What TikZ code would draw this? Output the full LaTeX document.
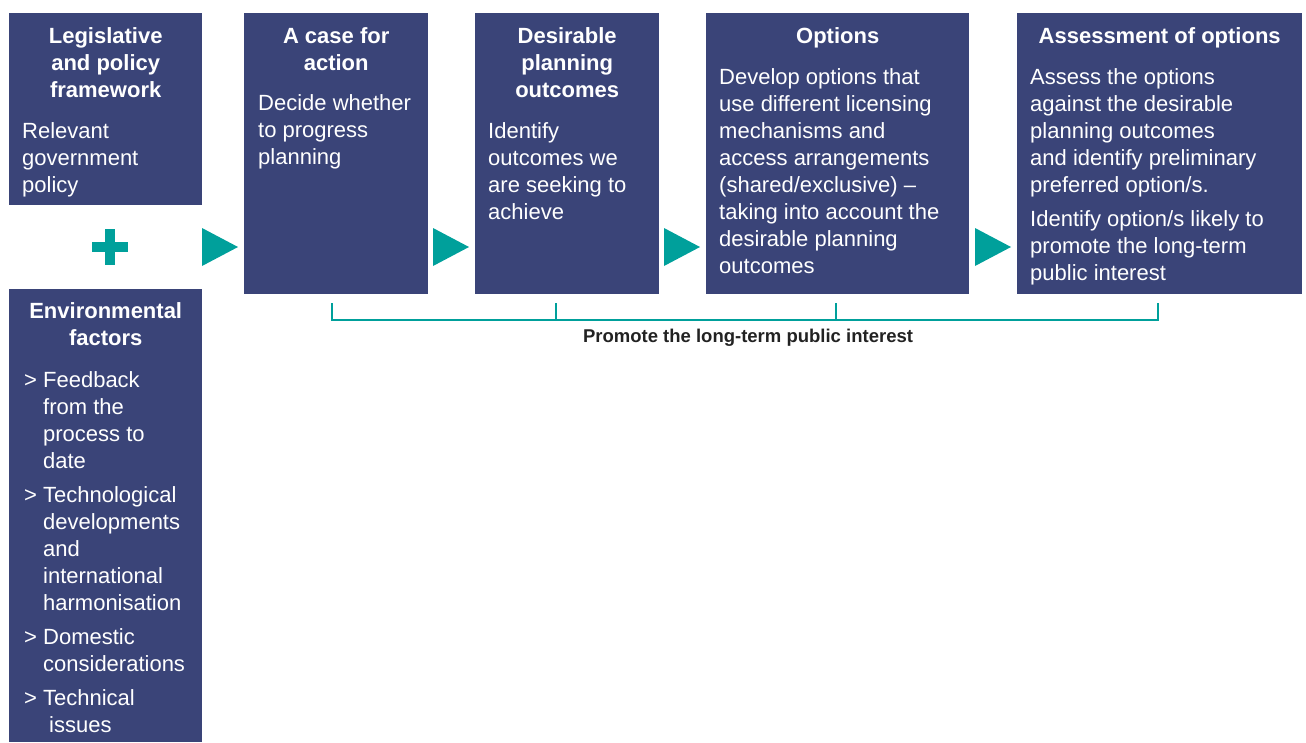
\documentclass[tikz,border=0pt]{standalone}
\usepackage{fontspec}
\setmainfont{Liberation Sans}
\usepackage{tikz}
\usetikzlibrary{positioning}
\definecolor{navy}{HTML}{3A4478}
\definecolor{tealc}{HTML}{00A09B}
\definecolor{ink}{HTML}{222222}
\tikzset{
  panel/.style={rectangle, anchor=north west, fill=navy, draw=none, inner sep=0pt},
  heading/.style={anchor=base, align=center, text=white, inner sep=0pt, font=\bfseries\fontsize{22}{27}\selectfont},
  body/.style={anchor=base west, align=left, text=white, inner sep=0pt, font=\fontsize{22}{27}\selectfont},
  pointer/.style={fill=tealc},
  bracket/.style={draw=tealc, line width=2pt},
  note/.style={anchor=base, text=ink, inner sep=0pt, font=\bfseries\fontsize{18.5}{22}\selectfont}
}
\begin{document}
\begin{tikzpicture}[x=1pt, y=-1pt]
    \useasboundingbox (0,0) rectangle (1306,742);

    % panels
    \node (legal) [panel, minimum width=193pt, minimum height=192pt] at (9,13) {};
    \node (env) [panel, minimum width=193pt, minimum height=453pt] at (9,289) {};
    \node (case) [panel, minimum width=184pt, minimum height=281pt] at (244,13) {};
    \node (goals) [panel, minimum width=184pt, minimum height=281pt] at (475,13) {};
    \node (options) [panel, minimum width=263pt, minimum height=281pt] at (706,13) {};
    \node (assess) [panel, minimum width=285pt, minimum height=281pt] at (1017,13) {};

    % headings (base = last line)
    \node (legalT) [heading] at ([yshift=-84pt]legal.north) {Legislative\\and policy\\framework};
    \node (envT) [heading] at ([yshift=-56pt]env.north) {Environmental\\factors};
    \node (caseT) [heading] at ([yshift=-57pt]case.north) {A case for\\action};
    \node (goalsT) [heading] at ([yshift=-84pt]goals.north) {Desirable\\planning\\outcomes};
    \node (optionsT) [heading] at ([yshift=-30pt]options.north) {Options};
    \node (assessT) [heading] at ([yshift=-30pt]assess.north) {Assessment of options};

    % panel texts (base = last line)
    \node (legalB) [body] at ([xshift=13pt,yshift=-179pt]legal.north west) {Relevant\\government\\policy};
    \node (caseB) [body] at ([xshift=14pt,yshift=-151pt]case.north west) {Decide whether\\to progress\\planning};
    \node (goalsB) [body] at ([xshift=13pt,yshift=-206pt]goals.north west) {Identify\\outcomes we\\are seeking to\\achieve};
    \node (optionsB) [body] at ([xshift=13pt,yshift=-260pt]options.north west) {Develop options that\\use different licensing\\mechanisms and\\access arrangements\\(shared/exclusive) --\\taking into account the\\desirable planning\\outcomes};
    \node (assessB) [body] at ([xshift=13pt,yshift=-267pt]assess.north west) {Assess the options\\against the desirable\\planning outcomes\\and identify preliminary\\preferred option/s.\\[7pt]Identify option/s likely to\\promote the long-term\\public interest};
    \node (envB) [body] at ([xshift=15pt,yshift=-443pt]env.north west) {> Feedback\\\hphantom{> }from the\\\hphantom{> }process to\\\hphantom{> }date\\[7pt]> Technological\\\hphantom{> }developments\\\hphantom{> }and\\\hphantom{> }international\\\hphantom{> }harmonisation\\[7pt]> Domestic\\\hphantom{> }considerations\\[7pt]> Technical\\\hphantom{> }\hspace{6pt}issues};

    % plus sign
    \draw[draw=tealc, line width=10pt] (92,247) -- (128,247) (110,229) -- (110,265);

    % arrow heads between panels
    \foreach \x in {202,433,664,975}
        \fill[pointer] (\x,228) -- (\x+36,247) -- (\x,266) -- cycle;

    % bracket under the process
    \coordinate (b1) at (332,303);
    \coordinate (b2) at (556,303);
    \coordinate (b3) at (836,303);
    \coordinate (b4) at (1158,303);
    \draw[bracket] (b1) -- ++(0,17) -| (b4);
    \draw[bracket] (b2) -- ++(0,17);
    \draw[bracket] (b3) -- ++(0,17);
    \node (promote) [note] at (748,342) {Promote the long-term public interest};
\end{tikzpicture}
\end{document}
